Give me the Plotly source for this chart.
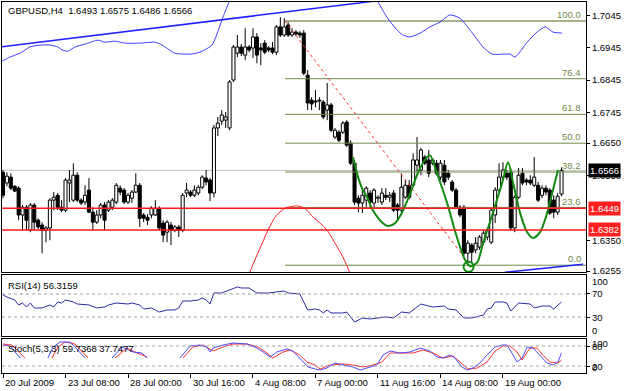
import plotly.graph_objects as go

# ---------------- data ----------------
symbol = "GBPUSD,H4"
opens = [1.6560,1.6527,1.6545,1.6517,1.6511,1.6428,1.6452,1.6381,1.6459,1.6412,
 1.6397,1.6381,1.6388,1.6474,1.6489,1.6452,1.6443,1.6527,1.6474,1.6551,
 1.6474,1.6468,1.6505,1.6437,1.6406,1.6428,1.6459,1.6443,1.6452,1.6468,
 1.6511,1.6505,1.6468,1.6480,1.6499,1.6520,1.6428,1.6421,1.6428,1.6428,
 1.6449,1.6403,1.6375,1.6397,1.6381,1.6391,1.6381,1.6496,1.6499,1.6489,
 1.6496,1.6514,1.6542,1.6536,1.6496,1.6697,1.6718,1.6721,1.6697,1.6845,
 1.6928,1.6947,1.6922,1.6947,1.6944,1.6978,1.6944,1.6959,1.6944,1.6944,
 1.6931,1.7009,1.6984,1.7015,1.6984,1.6993,1.6990,1.6990,1.6860,1.6783,
 1.6780,1.6783,1.6777,1.6752,1.6768,1.6669,1.6684,1.6684,1.6715,1.6650,
 1.6588,1.6480,1.6465,1.6474,1.6496,1.6465,1.6480,1.6468,1.6489,1.6483,
 1.6496,1.6459,1.6443,1.6483,1.6520,1.6520,1.6582,1.6567,1.6607,1.6598,
 1.6588,1.6588,1.6545,1.6582,1.6557,1.6530,1.6505,1.6452,1.6452,1.6310,
 1.6335,1.6320,1.6329,1.6344,1.6360,1.6344,1.6428,1.6505,1.6545,1.6557,
 1.6560,1.6388,1.6483,1.6557,1.6536,1.6536,1.6520,1.6520,1.6489,1.6511,
 1.6505,1.6474,1.6437,1.6493]
highs = [1.6567,1.6560,1.6557,1.6520,1.6517,1.6459,1.6459,1.6465,1.6465,1.6418,
 1.6406,1.6394,1.6480,1.6499,1.6496,1.6474,1.6542,1.6567,1.6588,1.6560,
 1.6480,1.6520,1.6542,1.6452,1.6443,1.6465,1.6468,1.6474,1.6480,1.6527,
 1.6520,1.6511,1.6496,1.6505,1.6557,1.6527,1.6434,1.6431,1.6455,1.6474,
 1.6455,1.6412,1.6412,1.6406,1.6397,1.6397,1.6496,1.6527,1.6505,1.6520,
 1.6520,1.6551,1.6567,1.6542,1.6706,1.6731,1.6752,1.6746,1.6845,1.6953,
 1.6984,1.6956,1.7005,1.6953,1.7005,1.6990,1.6959,1.6968,1.6950,1.6962,
 1.7015,1.7039,1.7036,1.7024,1.7005,1.6999,1.6996,1.6999,1.6876,1.6792,
 1.6814,1.6792,1.6783,1.6836,1.6774,1.6697,1.6690,1.6718,1.6721,1.6659,
 1.6598,1.6489,1.6511,1.6517,1.6505,1.6511,1.6489,1.6511,1.6511,1.6499,
 1.6505,1.6465,1.6557,1.6536,1.6536,1.6619,1.6669,1.6635,1.6613,1.6629,
 1.6604,1.6598,1.6598,1.6598,1.6567,1.6536,1.6511,1.6459,1.6459,1.6350,
 1.6341,1.6360,1.6366,1.6381,1.6388,1.6449,1.6514,1.6588,1.6591,1.6567,
 1.6573,1.6489,1.6573,1.6573,1.6542,1.6551,1.6607,1.6530,1.6520,1.6520,
 1.6511,1.6489,1.6496,1.6575]
lows = [1.6480,1.6517,1.6505,1.6499,1.6412,1.6381,1.6381,1.6375,1.6381,1.6381,
 1.6310,1.6344,1.6350,1.6443,1.6443,1.6437,1.6437,1.6468,1.6468,1.6468,
 1.6459,1.6459,1.6434,1.6381,1.6400,1.6418,1.6381,1.6437,1.6443,1.6462,
 1.6489,1.6462,1.6462,1.6465,1.6496,1.6391,1.6406,1.6397,1.6418,1.6425,
 1.6381,1.6344,1.6344,1.6335,1.6375,1.6360,1.6375,1.6483,1.6483,1.6483,
 1.6489,1.6508,1.6520,1.6471,1.6483,1.6672,1.6706,1.6697,1.6690,1.6839,
 1.6916,1.6919,1.6907,1.6931,1.6913,1.6897,1.6891,1.6925,1.6931,1.6925,
 1.6922,1.6978,1.6978,1.6978,1.6978,1.6981,1.6975,1.6860,1.6752,1.6752,
 1.6761,1.6752,1.6724,1.6721,1.6684,1.6663,1.6653,1.6678,1.6638,1.6582,
 1.6459,1.6437,1.6434,1.6449,1.6449,1.6452,1.6465,1.6459,1.6474,1.6468,
 1.6437,1.6412,1.6437,1.6477,1.6477,1.6514,1.6560,1.6551,1.6582,1.6545,
 1.6582,1.6551,1.6536,1.6520,1.6536,1.6499,1.6446,1.6421,1.6301,1.6279,
 1.6279,1.6310,1.6320,1.6335,1.6350,1.6338,1.6403,1.6499,1.6536,1.6536,
 1.6381,1.6375,1.6477,1.6520,1.6520,1.6520,1.6514,1.6468,1.6480,1.6489,
 1.6428,1.6418,1.6428,1.6486]
closes = [1.6489,1.6548,1.6511,1.6502,1.6428,1.6452,1.6412,1.6459,1.6406,1.6391,
 1.6381,1.6388,1.6474,1.6483,1.6452,1.6443,1.6536,1.6536,1.6551,1.6474,
 1.6465,1.6489,1.6437,1.6406,1.6428,1.6459,1.6412,1.6468,1.6474,1.6520,
 1.6499,1.6468,1.6489,1.6499,1.6520,1.6418,1.6418,1.6412,1.6449,1.6449,
 1.6388,1.6366,1.6406,1.6381,1.6391,1.6381,1.6489,1.6505,1.6489,1.6505,
 1.6514,1.6545,1.6530,1.6496,1.6697,1.6712,1.6737,1.6731,1.6839,1.6947,
 1.6947,1.6928,1.6947,1.6938,1.6978,1.6922,1.6938,1.6931,1.6938,1.6931,
 1.7009,1.6984,1.7009,1.6984,1.6993,1.6987,1.6984,1.6866,1.6774,1.6771,
 1.6777,1.6780,1.6731,1.6768,1.6690,1.6690,1.6659,1.6712,1.6644,1.6588,
 1.6468,1.6465,1.6489,1.6511,1.6468,1.6505,1.6483,1.6496,1.6483,1.6489,
 1.6443,1.6443,1.6514,1.6520,1.6483,1.6598,1.6598,1.6629,1.6588,1.6557,
 1.6598,1.6557,1.6588,1.6530,1.6545,1.6505,1.6452,1.6428,1.6310,1.6341,
 1.6313,1.6341,1.6360,1.6372,1.6381,1.6443,1.6505,1.6545,1.6567,1.6545,
 1.6388,1.6483,1.6551,1.6527,1.6530,1.6527,1.6545,1.6474,1.6511,1.6499,
 1.6434,1.6437,1.6486,1.6566]

# x-axis labels (bar index -> text)
time_tick_idx = [0, 16, 32, 48, 64, 80, 96, 112, 128]
time_tick_text = ["20 Jul 2009", "23 Jul 08:00", "28 Jul 00:00", "30 Jul 16:00",
                  "4 Aug 08:00", "7 Aug 00:00", "11 Aug 16:00", "14 Aug 08:00",
                  "19 Aug 00:00"]
price_ticks = [1.7045, 1.6945, 1.6845, 1.6745, 1.6650, 1.6550, 1.6350, 1.6255]

# horizontal support lines
support_levels = [1.6449, 1.6382]

# blue indicator curve drawn in the price window
blue_ind_x = [-0.8, 1.8, 4.4, 6.9, 9.5, 12.0, 14.1, 15.1, 16.6, 18.4, 21.0, 24.3, 26.1,
              28.7, 31.2, 35.1, 38.9, 40.7, 44.0, 47.9, 50.4, 53.5, 56.3, 58.1, 60.7,
              76.0, 94.0, 95.7, 98.3, 100.9, 102.4, 104.2, 106.8, 109.3, 111.9, 114.4,
              117.0, 119.6, 122.9, 125.2, 129.8, 131.1, 134.2, 136.7, 138.8, 140.8, 143.1]
blue_ind_y = [1.6900, 1.6916, 1.6928, 1.6947, 1.6953, 1.6953, 1.6947, 1.6938, 1.6934,
              1.6947, 1.6956, 1.6968, 1.6962, 1.6965, 1.6959, 1.6959, 1.6962, 1.6953,
              1.6928, 1.6925, 1.6931, 1.6953, 1.7039, 1.7092, 1.7154, 1.7216, 1.7123,
              1.7092, 1.7039, 1.6999, 1.6984, 1.6978, 1.6990, 1.7009, 1.7024, 1.7046,
              1.7036, 1.6999, 1.6947, 1.6925, 1.6925, 1.6916, 1.6962, 1.6993, 1.7009,
              1.6993, 1.6990]

# trend lines (two anchors each)
trend_up_x = [-0.8, 100.0]
trend_up_y = [1.6947, 1.7096]
trend_low_x = [128.5, 148.5]
trend_low_y = [1.6251, 1.6276]

# Fibonacci retracement anchors
fib_x = [72.2, 119.6]
fib_price = [1.7027, 1.6273]
fib_ratios = [100.0, 76.4, 61.8, 50.0, 38.2, 23.6, 0.0]

# red arc
arc_x = [62.5, 63.7, 64.8, 65.8, 66.8, 67.8, 68.9, 70.1, 71.2, 72.2, 74.2, 76.0,
         77.8, 79.4, 81.2, 83.0, 84.7, 86.5, 88.3, 89.1]
arc_y = [1.6227, 1.6267, 1.6298, 1.6326, 1.6353, 1.6381, 1.6406, 1.6428, 1.6440,
         1.6449, 1.6455, 1.6455, 1.6443, 1.6421, 1.6403, 1.6381, 1.6347, 1.6310,
         1.6264, 1.6233]

# green hand-drawn wave
wave_x = [89.6, 90.9, 91.9, 93.2, 94.7, 97.0, 98.6, 100.4, 102.1, 104.2, 106.2, 108.0,
          109.3, 111.1, 113.7, 116.2, 118.3, 119.6, 121.4, 122.9, 125.4, 127.8, 129.3,
          130.6, 132.4, 134.2, 135.7, 137.5, 139.3, 140.8, 142.1]
wave_y = [1.6607, 1.6545, 1.6511, 1.6483, 1.6443, 1.6406, 1.6394, 1.6403, 1.6434,
          1.6493, 1.6557, 1.6598, 1.6613, 1.6557, 1.6465, 1.6360, 1.6289, 1.6270,
          1.6282, 1.6341, 1.6434, 1.6527, 1.6591, 1.6527, 1.6434, 1.6375, 1.6357,
          1.6375, 1.6434, 1.6505, 1.6567]
wave_mark = [119.2, 1.6268]

# RSI(14)
rsi_x = [0, 1, 3, 4, 5, 6, 7, 8, 10, 12, 13, 14, 15, 16, 18, 19, 22, 24, 26, 27,
         29, 32, 33, 35, 36, 38, 39, 40, 42, 44, 45, 46, 48, 50, 51, 52, 53, 54, 56, 58,
         60, 61, 63, 65, 68, 70, 72, 73, 76, 77, 78, 80, 81, 82, 83, 84, 87, 88, 90, 92,
         94, 96, 98, 100, 102, 104, 107, 109, 110, 113, 114, 116, 118, 120, 121, 123,
         124, 125, 126, 128, 129, 130, 132, 135, 136, 138, 140, 141, 143]
rsi_v = [68.3, 64.8, 59.6, 50.9, 54.3, 47.4, 54.3, 45.7, 45.7, 50.9, 47.4, 56.1, 54.3,
         59.6, 56.1, 52.6, 50.9, 45.7, 47.4, 50.9, 54.3, 52.6, 54.3, 50.9, 43.9, 45.7,
         42.2, 38.7, 42.2, 42.2, 45.7, 57.8, 57.8, 59.6, 63.0, 59.6, 52.6, 71.7, 71.7,
         77.0, 82.2, 80.4, 80.4, 71.7, 71.7, 73.5, 75.2, 71.7, 70.0, 56.1, 42.2, 43.9,
         42.2, 37.0, 42.2, 37.0, 37.0, 38.7, 21.3, 28.3, 26.5, 28.3, 30.0, 28.3, 38.7,
         37.0, 52.6, 49.1, 47.4, 49.1, 43.9, 42.2, 28.3, 28.3, 30.0, 33.5, 43.9, 45.7,
         56.1, 56.1, 54.3, 40.4, 54.3, 52.6, 45.7, 49.1, 49.1, 43.9, 56.3159]
rsi_levels = [70, 30]

# Stochastic (5,3,3): None = not visible in the picture
stk_x = [0, 1.8, 3.1, 4.4, None, 11.5, 12.8, 14.6, 17.2, 18.4, 21.0, None,
         27.9, 30.5, 33.3, 35.6, 36.9, None,
         45.3, 47.9, 50.4, 52.2, 53.0, 53.8, 56.3, 58.9, 62.5, 65.0, 66.6, 68.4, 70.1,
         72.7, 74.2, 76.5, 78.1, 79.9, 81.2, 82.9, 85.0, 87.0, 89.6, 91.4, 94.0, 95.7,
         97.3, 99.1, 101.6, 104.2, 106.8, 109.3, 111.1, 112.6, 114.4, 115.7, 117.5,
         118.8, 120.3, 122.1, 123.9, 126.0, 127.8, 129.0, 130.3, 131.6, 132.9, 134.2,
         135.7, 137.5, 139.3, 140.8, 142.1, 143.0]
stk_v = [83, 80, 62, 44, None, 44, 77, 92, 92, 77, 44, None,
         44, 77, 62, 59, 44, None,
         44, 80, 83, 77, 62, 74, 83, 89, 86, 74, 62, 47, 62,
         71, 65, 38, 17, 11, 8, 14, 29, 23, 17, 8, 17, 23,
         53, 65, 59, 62, 74, 65, 47, 44, 53, 44, 17,
         8, 14, 29, 53, 77, 83, 83, 59, 32, 44, 77,
         74, 53, 29, 23, 32, 59.7368]
std_x = [0, 2.3, 3.6, 5.6, None, 12.5, 14.1, 15.9, 18.4, 21.8, None,
         28.7, 31.7, 34.3, 36.9, None,
         46.1, 48.6, 51.2, 53.8, 56.3, 58.9, 62.5, 65.3, 67.6, 69.1, 71.7, 73.5, 76.0,
         77.8, 79.9, 81.2, 83.7, 87.0, 89.6, 92.2, 94.7, 97.0, 99.1, 101.6, 105.0,
         107.5, 110.1, 112.6, 115.2, 117.0, 119.0, 121.4, 123.9, 126.0, 128.0, 129.8,
         131.6, 132.9, 134.9, 136.7, 138.2, 140.0, 142.1, 143.0]
std_v = [86, 83, 68, 44, None, 44, 77, 92, 86, 44, None,
         44, 74, 59, 47, None,
         44, 77, 83, 65, 77, 86, 86, 77, 59, 44, 62, 68, 53,
         32, 23, 11, 23, 26, 23, 17, 23, 32, 59, 59, 59,
         68, 59, 44, 50, 32, 11, 14, 32, 65, 80, 80,
         62, 38, 74, 74, 53, 32, 29, 37.7477]
stoch_levels = [80, 20]

# ---------------- figure ----------------
FONT = "Liberation Sans, Arial, sans-serif"
X_RANGE = [-0.26, 149.26]
Y_MAIN = [1.6252, 1.7086]
n = len(closes)
idx = list(range(n))

fig = go.Figure()

# candle bodies
body_base = [min(o, c) for o, c in zip(opens, closes)]
body_h = [max(abs(c - o), 0.00003) for o, c in zip(opens, closes)]
body_fill = ["white" if c >= o else "black" for o, c in zip(opens, closes)]
fig.add_trace(go.Bar(x=idx, y=body_h, base=body_base, width=0.78,
                     marker=dict(color=body_fill, line=dict(color="black", width=1)),
                     xaxis="x", yaxis="y", hoverinfo="skip"))
# wicks
wx, wy = [], []
for i, (o, h, l, c) in enumerate(zip(opens, highs, lows, closes)):
    top, bot = max(o, c), min(o, c)
    if h > top:
        wx += [i, i, None]; wy += [top, h, None]
    if l < bot:
        wx += [i, i, None]; wy += [bot, l, None]
fig.add_trace(go.Scatter(x=wx, y=wy, mode="lines", line=dict(color="black", width=1),
                         xaxis="x", yaxis="y", hoverinfo="skip"))

# Fibonacci levels
fib_col = "#6f8a47"
span = fib_price[0] - fib_price[1]
for r in fib_ratios:
    lvl = fib_price[1] + span * r / 100.0
    col = "#a8b090" if r == 100.0 else fib_col
    w = 2 if r == 100.0 else 1
    fig.add_trace(go.Scatter(x=[fib_x[0], X_RANGE[1]], y=[lvl, lvl], mode="lines",
                             line=dict(color=col, width=w), xaxis="x", yaxis="y",
                             hoverinfo="skip"))
    fig.add_annotation(x=X_RANGE[1], xref="x", y=lvl, yref="y", text=f"{r:.1f}",
                       xanchor="right", yanchor="bottom", xshift=-3, yshift=-1,
                       showarrow=False, font=dict(family=FONT, size=9.5, color=fib_col))
fig.add_trace(go.Scatter(x=fib_x, y=fib_price, mode="lines",
                         line=dict(color="#ff3030", width=1, dash="3px,3px"),
                         xaxis="x", yaxis="y", hoverinfo="skip"))

# current price line
fig.add_shape(type="line", xref="x domain", x0=0, x1=1, yref="y",
              y0=closes[-1], y1=closes[-1], line=dict(color="#c0c0c0", width=1), layer="below")
# support lines
for lv in support_levels:
    fig.add_shape(type="line", xref="x domain", x0=0, x1=1, yref="y", y0=lv, y1=lv,
                  line=dict(color="#ff1a1a", width=1.5))

# indicator / trend lines
fig.add_trace(go.Scatter(x=blue_ind_x, y=blue_ind_y, mode="lines",
                         line=dict(color="#3f3fff", width=1, shape="spline", smoothing=0.6),
                         xaxis="x", yaxis="y", hoverinfo="skip"))
fig.add_trace(go.Scatter(x=trend_up_x, y=trend_up_y, mode="lines",
                         line=dict(color="#2020ff", width=1.5), xaxis="x", yaxis="y",
                         hoverinfo="skip"))
fig.add_trace(go.Scatter(x=trend_low_x, y=trend_low_y, mode="lines",
                         line=dict(color="#2020ff", width=1.5), xaxis="x", yaxis="y",
                         hoverinfo="skip"))
fig.add_trace(go.Scatter(x=arc_x, y=arc_y, mode="lines",
                         line=dict(color="#ff2020", width=1, shape="spline"),
                         xaxis="x", yaxis="y", hoverinfo="skip"))
fig.add_trace(go.Scatter(x=wave_x, y=wave_y, mode="lines",
                         line=dict(color="#108a10", width=2, shape="spline", smoothing=0.8),
                         xaxis="x", yaxis="y", hoverinfo="skip"))
fig.add_trace(go.Scatter(x=[wave_mark[0]], y=[wave_mark[1]], mode="markers",
                         marker=dict(symbol="circle-open", size=10, color="#108a10",
                                     line=dict(width=2, color="#108a10")),
                         xaxis="x", yaxis="y", hoverinfo="skip"))

# RSI
for lv in rsi_levels:
    fig.add_shape(type="line", xref="x2 domain", x0=0, x1=1, yref="y2", y0=lv, y1=lv,
                  line=dict(color="#a0a0a0", width=1, dash="3px,3px"))
fig.add_trace(go.Scatter(x=rsi_x, y=rsi_v, mode="lines",
                         line=dict(color="#2a2aa8", width=1), xaxis="x2", yaxis="y2",
                         hoverinfo="skip"))
# Stochastic
for lv in stoch_levels:
    fig.add_shape(type="line", xref="x3 domain", x0=0, x1=1, yref="y3", y0=lv, y1=lv,
                  line=dict(color="#a0a0a0", width=1, dash="3px,3px"))
fig.add_trace(go.Scatter(x=std_x, y=std_v, mode="lines", connectgaps=False,
                         line=dict(color="#ff3030", width=1), xaxis="x3", yaxis="y3",
                         hoverinfo="skip"))
fig.add_trace(go.Scatter(x=stk_x, y=stk_v, mode="lines", connectgaps=False,
                         line=dict(color="#4a4aff", width=1), xaxis="x3", yaxis="y3",
                         hoverinfo="skip"))

# texts
tfont = dict(family=FONT, size=9.5, color="black")
fig.add_annotation(xref="paper", x=0.007, yref="paper", y=0.978, xanchor="left",
                   yanchor="middle", showarrow=False, font=tfont,
                   text=f"{symbol}  {opens[-1]:.4f} {highs[-1]:.4f} {lows[-1]:.4f} {closes[-1]:.4f}")
fig.add_annotation(xref="paper", x=0.007, yref="paper", y=0.237, xanchor="left",
                   yanchor="middle", showarrow=False, font=tfont,
                   text=f"RSI(14) {rsi_v[-1]:.4f}")
fig.add_annotation(xref="paper", x=0.007, yref="paper", y=0.067, xanchor="left",
                   yanchor="middle", showarrow=False, font=tfont,
                   text=f"Stoch(5,3,3) {stk_v[-1]:.4f} {std_v[-1]:.4f}")

# right-side price boxes
fig.add_annotation(xref="paper", x=1.0034, yref="y", y=closes[-1], text=f"{closes[-1]:.4f}",
                   xanchor="left", yanchor="middle", showarrow=False, bgcolor="black",
                   borderpad=1, font=dict(family=FONT, size=9.5, color="white"))
for lv in support_levels:
    fig.add_annotation(xref="paper", x=1.0034, yref="y", y=lv, text=f"{lv:.4f}",
                       xanchor="left", yanchor="middle", showarrow=False, bgcolor="#ff2020",
                       borderpad=1, font=dict(family=FONT, size=9.5, color="white"))

# sub-window scale labels
for val, shift in [(100, -5), (70, 0), (30, 0), (0, 4)]:
    fig.add_annotation(xref="paper", x=1.0068, yref="y2", y=val, yshift=shift, text=str(val),
                       xanchor="left", yanchor="middle", showarrow=False, font=tfont)
for val, shift in [(100, -4), (80, 0), (20, 0), (0, 5)]:
    fig.add_annotation(xref="paper", x=1.0068, yref="y3", y=val, yshift=shift, text=str(val),
                       xanchor="left", yanchor="middle", showarrow=False, font=tfont)

# time labels
for ti, tt in zip(time_tick_idx, time_tick_text):
    fig.add_annotation(xref="x3", x=ti, yref="paper", y=-0.025, text=tt, xanchor="left",
                       yanchor="middle", xshift=0, showarrow=False, font=tfont)

axis_common = dict(showgrid=False, zeroline=False, showline=True, mirror=True,
                   linecolor="black", linewidth=1)
fig.update_layout(
    width=625, height=391, margin=dict(l=2, r=39, t=2, b=18),
    paper_bgcolor="white", plot_bgcolor="white", showlegend=False, hovermode=False,
    barmode="overlay",
    xaxis=dict(domain=[0, 1], range=X_RANGE, anchor="y", showticklabels=False, ticks="",
               **axis_common),
    xaxis2=dict(domain=[0, 1], range=X_RANGE, anchor="y2", matches="x",
                showticklabels=False, ticks="", **axis_common),
    xaxis3=dict(domain=[0, 1], range=X_RANGE, anchor="y3", matches="x",
                showticklabels=False, tickvals=time_tick_idx, ticks="outside", ticklen=4,
                tickcolor="black", **axis_common),
    yaxis=dict(domain=[0.2722, 1], range=Y_MAIN, side="right", tickvals=price_ticks,
               ticktext=[f"{p:.4f}" for p in price_ticks], ticks="outside", ticklen=3,
               tickcolor="black", tickfont=tfont, anchor="x", **axis_common),
    yaxis2=dict(domain=[0.0997, 0.2642], range=[-3, 103], side="right", anchor="x2",
                tickvals=rsi_levels, ticks="outside", ticklen=3, tickcolor="black",
                showticklabels=False, **axis_common),
    yaxis3=dict(domain=[0, 0.0916], range=[-1, 101], side="right", anchor="x3",
                tickvals=stoch_levels, ticks="outside", ticklen=3, tickcolor="black",
                showticklabels=False, **axis_common),
)

fig.write_html("out.html")
